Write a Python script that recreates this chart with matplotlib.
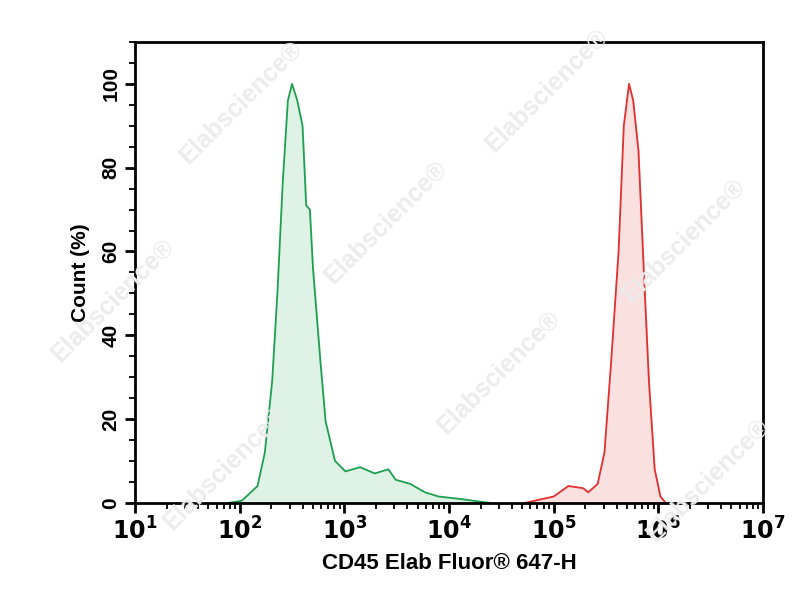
import numpy as np
import matplotlib
matplotlib.use('Agg')
import matplotlib.pyplot as plt
from matplotlib.ticker import FixedLocator, MultipleLocator

plt.rcParams['font.family'] = ['Liberation Sans', 'DejaVu Sans']

# ── Histogram outlines (log10 intensity, count %) ──
green_log = [1.90, 2.02, 2.17, 2.24, 2.31, 2.36, 2.41, 2.46, 2.50, 2.55, 2.60, 2.635,
             2.67, 2.70, 2.77, 2.82, 2.91, 3.01, 3.15, 3.29, 3.42, 3.49, 3.63, 3.77,
             3.90, 4.08, 4.38]
green_pct = [0, 0.5, 4, 12, 29, 50, 76, 96, 100, 96, 90, 71,
             70, 56, 34, 19.5, 10, 7.5, 8.5, 7, 8, 5.5, 4.5, 2.5,
             1.5, 1, 0]
red_log = [4.73, 5.00, 5.14, 5.28, 5.33, 5.42, 5.485, 5.55, 5.62, 5.67, 5.72, 5.76,
           5.81, 5.86, 5.91, 5.965, 6.02, 6.07]
red_pct = [0, 1.5, 4, 3.5, 2.5, 4.5, 12, 34, 60, 90, 100, 96,
           84, 56, 29, 8, 1.5, 0]

fig = plt.figure(figsize=(8.04, 6.0), dpi=100)
ax = fig.add_axes([0.168, 0.162, 0.781, 0.768])

gx = 10 ** np.array(green_log)
rx = 10 ** np.array(red_log)
ax.fill_between(gx, green_pct, color='#dff2e6', zorder=1)
ax.plot(gx, green_pct, color='#1fa050', lw=1.3, zorder=2)
ax.fill_between(rx, red_pct, color='#fbe0e0', zorder=1)
ax.plot(rx, red_pct, color='#e03030', lw=1.3, zorder=2)

ax.set_xscale('log')
ax.set_xlim(10, 1e7)
ax.set_ylim(0, 110)
ax.xaxis.set_major_locator(FixedLocator([10 ** k for k in range(1, 8)]))
ax.set_xticklabels([f'$\\mathbf{{10^{k}}}$' for k in range(1, 8)], fontsize=17)
ax.yaxis.set_major_locator(MultipleLocator(20))
ax.yaxis.set_minor_locator(MultipleLocator(5))
ax.set_yticks(range(0, 101, 20))
ax.set_yticklabels([str(v) for v in range(0, 101, 20)], rotation=90, va='center',
                   fontsize=15, fontweight='bold')
ax.tick_params(which='major', length=7, width=2, direction='out')
ax.tick_params(which='minor', length=4, width=1.3, direction='out')
for s in ax.spines.values():
    s.set_linewidth(2)

ax.set_xlabel('CD45 Elab Fluor® 647-H', fontsize=16, fontweight='bold', labelpad=6)
ax.set_ylabel('Count (%)', fontsize=15, fontweight='bold', labelpad=8)

# faint watermark
for (x, y) in [(0.3, 0.83), (0.68, 0.85), (0.48, 0.63), (0.85, 0.6),
               (0.14, 0.5), (0.62, 0.38), (0.28, 0.22), (0.88, 0.2)]:
    fig.text(x, y, 'Elabscience®', fontsize=18, color='#ececec', rotation=45,
             ha='center', va='center', fontweight='bold', zorder=0)

fig.savefig('out.png', dpi=100)
